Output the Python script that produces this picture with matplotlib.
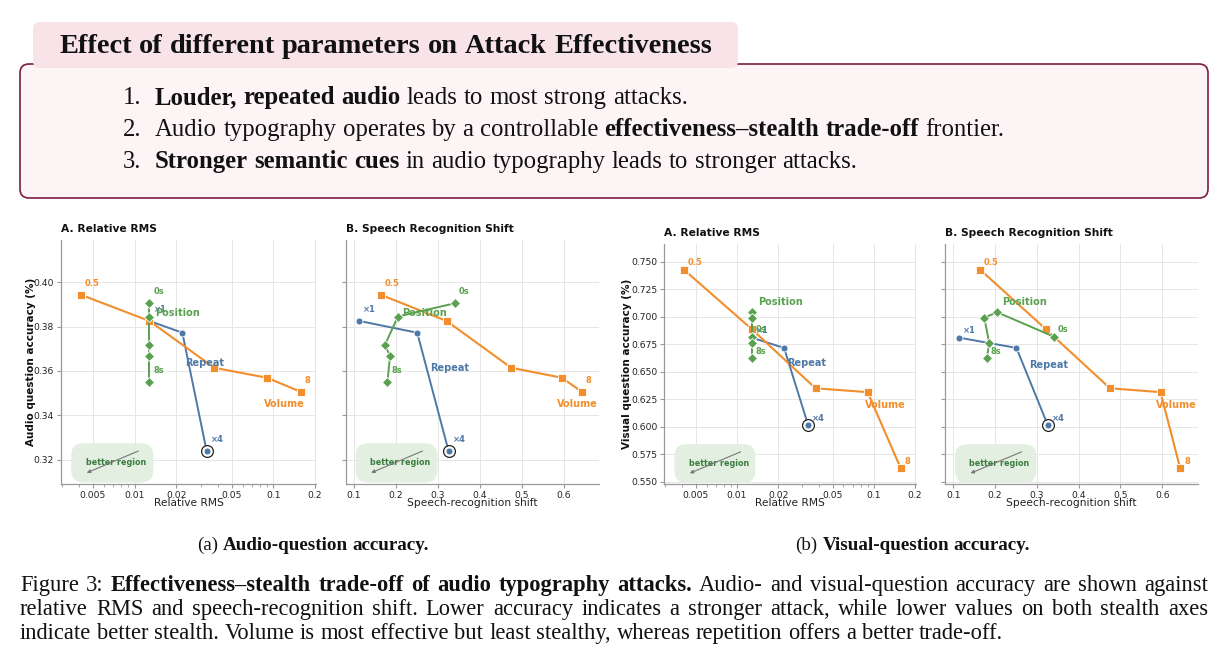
import matplotlib
matplotlib.use('Agg')
import matplotlib.pyplot as plt
from matplotlib.patches import FancyBboxPatch
from matplotlib.transforms import IdentityTransform
from matplotlib.ticker import FixedLocator, FixedFormatter, NullFormatter, LogLocator

# ---------------- data ----------------
vol_labels = ['0.5', '1', '2', '4', '8']
vol_rms = [0.0041, 0.0128, 0.0375, 0.090, 0.157]
vol_shift = [0.164, 0.321, 0.475, 0.596, 0.643]
vol_audio = [0.3943, 0.3825, 0.3614, 0.3569, 0.3506]
vol_visual = [0.7428, 0.6888, 0.6349, 0.6314, 0.5622]

rep_labels = ['×1', '×2', '×4']
rep_rms = [0.0128, 0.0221, 0.0331]
rep_shift = [0.113, 0.251, 0.326]
rep_audio = [0.3825, 0.3772, 0.3237]
rep_visual = [0.6810, 0.6716, 0.6015]

pos_labels = ['0s', '2s', '4s', '6s', '8s']
pos_rms = [0.0128, 0.0128, 0.0128, 0.0128, 0.0128]
pos_shift = [0.341, 0.205, 0.174, 0.186, 0.180]
pos_audio = [0.3905, 0.3845, 0.3717, 0.3667, 0.3549]
pos_visual = [0.6818, 0.7040, 0.6991, 0.6758, 0.6622]

rms_ticks = [0.005, 0.01, 0.02, 0.05, 0.1, 0.2]
rms_ticklabels = ['0.005', '0.01', '0.02', '0.05', '0.1', '0.2']
shift_ticks = [0.1, 0.2, 0.3, 0.4, 0.5, 0.6]
audio_ticks = [0.32, 0.34, 0.36, 0.38, 0.40]
visual_ticks = [0.550, 0.575, 0.600, 0.625, 0.650, 0.675, 0.700, 0.725, 0.750]

# ---------------- style ----------------
BLUE = '#4E79A7'
ORANGE = '#F28E2B'
GREEN = '#59A14F'
W, H, DPI = 1223, 663, 100
SERIF = 'Liberation Serif'

fig = plt.figure(figsize=(W / DPI, H / DPI), dpi=DPI)
fig.patch.set_facecolor('white')
R = fig.canvas.get_renderer()
ID = IdentityTransform()


def add_ax(l, t, r, b):
    return fig.add_axes([l / W, 1 - b / H, (r - l) / W, (b - t) / H])


def style_ax(ax):
    ax.set_axisbelow(True)
    ax.grid(True, which='major', color='#e6e6e6', lw=0.7)
    for s in ['top', 'right']:
        ax.spines[s].set_visible(False)
    for s in ['left', 'bottom']:
        ax.spines[s].set_color('#999999')
        ax.spines[s].set_linewidth(0.9)
    ax.tick_params(axis='both', which='major', length=3, width=0.8, color='#999999',
                   labelsize=6.6, labelcolor='#222222', pad=2)
    ax.tick_params(axis='both', which='minor', length=1.8, width=0.6, color='#999999')


def draw_panel(ax, xs_vol, xs_rep, xs_pos, ys_vol, ys_rep, ys_pos, dy_pt, lab_pos):
    # repeat
    ax.plot(xs_rep, ys_rep, color=BLUE, lw=1.4, zorder=3)
    ax.plot(xs_rep[-1], ys_rep[-1], marker='o', ms=8.5, mfc='white', mec='#222222',
            mew=0.9, ls='none', zorder=3.05)
    ax.plot(xs_rep, ys_rep, color=BLUE, lw=0, marker='o', ms=5.0, mfc=BLUE, mec='white',
            mew=0.6, zorder=3.1)
    # volume
    ax.plot(xs_vol, ys_vol, color=ORANGE, lw=1.5, marker='s', ms=5.6, mfc=ORANGE,
            mec='white', mew=0.6, zorder=3.2)
    # position
    ax.plot(xs_pos, ys_pos, color=GREEN, lw=1.4, marker='D', ms=4.6, mfc=GREEN,
            mec='white', mew=0.6, zorder=3.3)

    def small(x, y, s, c):
        ax.annotate(s, (x, y), xytext=(2.9, dy_pt), textcoords='offset points',
                    ha='left', va='center', fontsize=6, fontweight='bold', color=c, zorder=6)

    small(xs_vol[0], ys_vol[0], vol_labels[0], ORANGE)
    small(xs_vol[-1], ys_vol[-1], vol_labels[-1], ORANGE)
    small(xs_rep[0], ys_rep[0], rep_labels[0], BLUE)
    small(xs_rep[-1], ys_rep[-1], rep_labels[-1], BLUE)
    small(xs_pos[0], ys_pos[0], pos_labels[0], GREEN)
    small(xs_pos[-1], ys_pos[-1], pos_labels[-1], GREEN)

    for name, col in [('Repeat', BLUE), ('Position', GREEN), ('Volume', ORANGE)]:
        fx, fy = lab_pos[name]
        ax.text(fx, fy, name, transform=ax.transAxes, ha='center', va='center',
                fontsize=7, fontweight='bold', color=col, zorder=6)

    # better region box
    box = FancyBboxPatch((0.04, 0.006), 0.322, 0.161,
                         boxstyle='round,pad=0,rounding_size=0.05',
                         transform=ax.transAxes, fc='#e3efe1', ec='none', zorder=1.5,
                         clip_on=False)
    ax.add_patch(box)
    ax.text(0.216, 0.087, 'better region', transform=ax.transAxes, ha='center',
            va='center', fontsize=5.8, fontweight='bold', color='#3a7d3f', zorder=2)
    ax.annotate('', xy=(0.101, 0.046), xytext=(0.303, 0.135), xycoords='axes fraction',
                arrowprops=dict(arrowstyle='-|>', color='#777777', lw=0.8,
                                mutation_scale=5, shrinkA=0, shrinkB=0), zorder=2.5)


def setup_rms(ax):
    ax.set_xscale('log')
    ax.set_xlim(0.00295, 0.203)
    ax.xaxis.set_major_locator(FixedLocator(rms_ticks))
    ax.xaxis.set_major_formatter(FixedFormatter(rms_ticklabels))
    ax.xaxis.set_minor_locator(LogLocator(base=10, subs=range(2, 10)))
    ax.xaxis.set_minor_formatter(NullFormatter())
    ax.set_xlabel('Relative RMS', fontsize=7.7, color='#222222')


def setup_shift(ax):
    ax.set_xlim(0.08, 0.685)
    ax.set_xticks(shift_ticks)
    ax.set_xticklabels([f'{v:.1f}' for v in shift_ticks])
    ax.set_xlabel('Speech-recognition shift', fontsize=7.7, color='#222222')


axes_px = {
    'aA': (61, 240, 316, 484),
    'aB': (345.5, 240, 599.3, 484),
    'bA': (664.3, 244, 916, 484.3),
    'bB': (945, 244, 1197.7, 484.3),
}
lab = {
    'aA': {'Repeat': (0.565, 0.495), 'Position': (0.456, 0.70), 'Volume': (0.874, 0.327)},
    'aB': {'Repeat': (0.409, 0.477), 'Position': (0.31, 0.702), 'Volume': (0.912, 0.327)},
    'bA': {'Repeat': (0.566, 0.505), 'Position': (0.46, 0.76), 'Volume': (0.877, 0.33)},
    'bB': {'Repeat': (0.412, 0.495), 'Position': (0.314, 0.76), 'Volume': (0.914, 0.33)},
}

for key in ['aA', 'aB', 'bA', 'bB']:
    l, t, r, b = axes_px[key]
    ax = add_ax(l, t, r, b)
    style_ax(ax)
    audio = key[0] == 'a'
    rms = key[1] == 'A'
    ys = (vol_audio, rep_audio, pos_audio) if audio else (vol_visual, rep_visual, pos_visual)
    xs = (vol_rms, rep_rms, pos_rms) if rms else (vol_shift, rep_shift, pos_shift)
    if rms:
        setup_rms(ax)
    else:
        setup_shift(ax)
    if audio:
        ax.set_ylim(0.309, 0.419)
        ax.set_yticks(audio_ticks)
        ax.set_yticklabels([f'{v:.2f}' for v in audio_ticks])
    else:
        ax.set_ylim(0.5476, 0.7661)
        ax.set_yticks(visual_ticks)
        ax.set_yticklabels([f'{v:.3f}' for v in visual_ticks])
    ax.xaxis.set_label_coords(0.5, -0.058)
    draw_panel(ax, xs[0], xs[1], xs[2], ys[0], ys[1], ys[2],
               8.4 if audio else 5.0, lab[key])
    title = 'A. Relative RMS' if rms else 'B. Speech Recognition Shift'
    ax.set_title(title, loc='left', fontsize=7.7, fontweight='bold', pad=6, color='#111111')
    if rms:
        ax.set_ylabel('Audio question accuracy (%)' if audio else 'Visual question accuracy (%)',
                      fontsize=7.5, fontweight='bold', color='#111111')
        wpx = r - l
        ax.yaxis.set_label_coords((36 - l) / wpx if audio else (632.5 - l) / wpx, 0.5)
    else:
        ax.tick_params(axis='y', labelleft=False)

# ---------------- text helpers ----------------


def tw(s, size, weight, fam=SERIF):
    t = fig.text(0, 0, s, fontsize=size, fontweight=weight, family=fam)
    w = t.get_window_extent(R).width
    t.remove()
    return w


def space_w(size, fam=SERIF):
    return tw('a a', size, 'normal', fam) - tw('aa', size, 'normal', fam)


def tokens(runs):
    out = []
    for txt, bold in runs:
        for wd in txt.split(' '):
            if wd:
                out.append((wd, bold))
    return out


def natural_width(toks, size, fam=SERIF):
    return (sum(tw(w, size, 'bold' if b else 'normal', fam) for w, b in toks)
            + space_w(size, fam) * (len(toks) - 1))


def fit_size(toks, target, fam=SERIF, base=12.0):
    s = base * target / natural_width(toks, base, fam)
    s = s * target / natural_width(toks, s, fam)
    return s


def draw_line(x0, ybase, toks, size, fam=SERIF, color='#111111', justify_to=None, ha='left'):
    widths = [tw(w, size, 'bold' if b else 'normal', fam) for w, b in toks]
    sp = space_w(size, fam)
    if justify_to is not None and len(toks) > 1:
        sp = (justify_to - sum(widths)) / (len(toks) - 1)
    total = sum(widths) + sp * (len(toks) - 1)
    x = x0 - total / 2 if ha == 'center' else x0
    for (w, b), wd in zip(toks, widths):
        fig.text(x, H - ybase, w, transform=ID, ha='left', va='baseline', fontsize=size,
                 fontweight='bold' if b else 'normal', family=fam, color=color)
        x += wd + sp


# ---------------- header box ----------------
main_box = FancyBboxPatch((20, H - 198), 1188, 134, boxstyle='round,pad=0,rounding_size=9',
                          transform=ID, fc='#fdf4f6', ec='#7d1d45', lw=1.2)
fig.add_artist(main_box)
tab = FancyBboxPatch((33, H - 68), 705, 46, boxstyle='round,pad=0,rounding_size=7',
                     transform=ID, fc='#f8e3e9', ec='none')
fig.add_artist(tab)

header_toks = tokens([('Effect of different parameters on Attack Effectiveness', True)])
hs = fit_size(header_toks, 655)
draw_line(385.5, 53, header_toks, hs, ha='center')

list_lines = [
    [('Louder, repeated audio', True), (' leads to most strong attacks.', False)],
    [('Audio typography operates by a controllable', False),
     (' effectiveness–stealth trade-off', True), (' frontier.', False)],
    [('Stronger semantic cues', True), (' in audio typography leads to stronger attacks.', False)],
]
ls = fit_size(tokens(list_lines[1]), 850)
for i, runs in enumerate(list_lines):
    yb = 104 + 32 * i
    draw_line(123, yb, [(f'{i + 1}.', False)], ls)
    draw_line(155, yb, tokens(runs), ls)

# ---------------- captions ----------------
cap_lines = [
    [('Figure 3:', False), ('Effectiveness–stealth trade-off of audio typography attacks.', True),
     ('Audio- and visual-question accuracy are shown against', False)],
    [('relative RMS and speech-recognition shift. Lower accuracy indicates a stronger attack, '
      'while lower values on both stealth axes', False)],
    [('indicate better stealth. Volume is most effective but least stealthy, whereas repetition '
      'offers a better trade-off.', False)],
]
cs = 0.5 * (fit_size(tokens(cap_lines[2]), 980) + fit_size(tokens(cap_lines[0]), 1170))
for i, runs in enumerate(cap_lines):
    draw_line(20, 591 + 24 * i, tokens(runs), cs, justify_to=1188 if i < 2 else None)

sub_a = tokens([('(a)', False), ('Audio-question accuracy.', True)])
sub_b = tokens([('(b)', False), ('Visual-question accuracy.', True)])
ss = fit_size(sub_a, 232)
draw_line(313, 550, sub_a, ss, ha='center')
draw_line(913, 550, sub_b, ss, ha='center')

fig.savefig('out.png', dpi=DPI, facecolor='white')
